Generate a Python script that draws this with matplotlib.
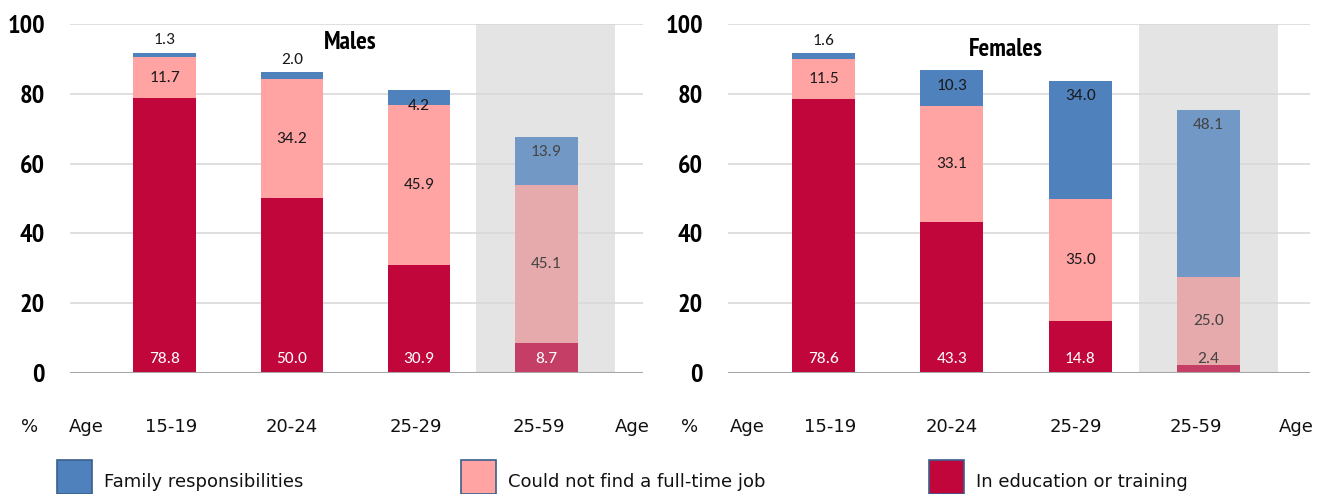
import matplotlib
matplotlib.use("Agg")
import matplotlib.pyplot as plt
from matplotlib import font_manager
from matplotlib.patches import Rectangle
import numpy as np

# data
ages = ["15-19", "20-24", "25-29", "25-59"]
series = ["Family responsibilities", "Could not find a full-time job", "In education or training"]

male_edu    = [78.8, 50.0, 30.9, 8.7]
male_job    = [11.7, 34.2, 45.9, 45.1]
male_family = [1.3, 2.0, 4.2, 13.9]

female_edu    = [78.6, 43.3, 14.8, 2.4]
female_job    = [11.5, 33.1, 35.0, 25.0]
female_family = [1.6, 10.3, 34.0, 48.1]

tick_row = ["%", "Age", "15-19", "20-24", "25-29", "25-59", "Age",
            "%", "Age", "15-19", "20-24", "25-29", "25-59", "Age"]


def pick(cands, bold=False):
    fonts = font_manager.fontManager.ttflist
    for c in cands:
        for f in fonts:
            if f.name == c and (not bold or (isinstance(f.weight, int) and f.weight >= 600)
                                or f.weight in ("bold", "semibold", "demibold", "heavy")):
                return c
    return None


NARROW = pick(["Arial Narrow", "Liberation Sans Narrow", "Archivo Narrow",
               "PT Sans Narrow", "Roboto Condensed", "Fira Sans Condensed",
               "IBM Plex Sans Condensed", "Barlow Condensed", "Open Sans Condensed"],
              bold=True)
CALIBRI = pick(["Calibri", "Carlito"])
VERDANA = pick(["Verdana", "DejaVu Sans"])

# style
BLUE, PINK, RED = "#4F81BD", "#FFA3A3", "#C0063B"
BLUE_F, PINK_F, RED_F = "#7298C5", "#E6AAAC", "#C43E66"
SHADE = "#E4E4E4"
GRID = "#D9D9D9"

tick_font = dict(family=NARROW, fontsize=19) if NARROW else dict(family="DejaVu Sans", fontsize=15)
val_font = dict(family=CALIBRI, fontsize=12.5) if CALIBRI else dict(family="DejaVu Sans", fontsize=10)

W, H = 1330, 494
fig = plt.figure(figsize=(W / 100, H / 100), dpi=100)


def panel(rect, xlim, shade, edu, job, fam, title, title_xy):
    ax = fig.add_axes(rect)
    ax.set_xlim(*xlim)
    ax.set_ylim(0, 100)
    ax.axvspan(shade[0], shade[1], color=SHADE, zorder=0, lw=0)
    for y in range(20, 101, 20):
        ax.axhline(y, color=GRID, lw=1.2, zorder=1)
    ax.axhline(0, color="#A6A6A6", lw=1.5, zorder=4)

    x = np.arange(len(ages))
    edu, job, fam = map(np.array, (edu, job, fam))
    ce = [RED] * 3 + [RED_F]
    cj = [PINK] * 3 + [PINK_F]
    cf = [BLUE] * 3 + [BLUE_F]
    ax.bar(x, edu, 0.49, color=ce, zorder=3)
    ax.bar(x, job, 0.49, bottom=edu, color=cj, zorder=3)
    ax.bar(x, fam, 0.49, bottom=edu + job, color=cf, zorder=3)

    for i in range(len(ages)):
        dark = "#1A1A1A" if i < 3 else "#444444"
        ax.text(x[i], 4.0, f"{edu[i]:.1f}", ha="center", va="center",
                color="white" if edu[i] > 5 else dark, zorder=5, **val_font)
        ax.text(x[i], edu[i] + job[i] / 2, f"{job[i]:.1f}", ha="center",
                va="center", color=dark, zorder=5, **val_font)
        top = edu[i] + job[i] + fam[i]
        fy = top + 3.5 if fam[i] < 3 else top - 4.4
        ax.text(x[i], fy, f"{fam[i]:.1f}", ha="center", va="center",
                color=dark, zorder=5, **val_font)

    ax.set_yticks(range(0, 101, 20))
    ax.set_xticks([])
    for lab in ax.get_yticklabels():
        lab.set_family(tick_font["family"])
        lab.set_fontweight("bold")
        lab.set_fontsize(tick_font["fontsize"])
    ax.tick_params(axis="y", length=0, pad=18)
    for s in ax.spines.values():
        s.set_visible(False)
    ax.text(title_xy[0], title_xy[1], title, ha="center", va="center",
            family=tick_font["family"], fontweight="bold",
            fontsize=tick_font["fontsize"] - 1, zorder=5)
    return ax


panel([70 / W, 121 / H, 573 / W, 349 / H], (-0.742, 3.759), (2.447, 3.539),
      male_edu, male_job, male_family, "Males", (1.457, 94.8))
panel([728 / W, 121 / H, 582 / W, 349 / H], (-0.744, 3.79), (2.459, 3.542),
      female_edu, female_job, female_family, "Females", (1.422, 92.8))

# category row under the charts
row_x = [30, 86, 171, 292, 416, 539, 632, 690, 747, 830, 952, 1076, 1196, 1296]
for label, px in zip(tick_row, row_x):
    fig.text(px / W, 1 - 427 / H, label, ha="center", va="center",
             family=VERDANA, fontsize=13, color="#111111")

# legend
leg_x = [57, 461, 929]
for name, color, px in zip(series, [BLUE, PINK, RED], leg_x):
    fig.add_artist(Rectangle((px / W, 1 - 494 / H), 35 / W, 34 / H,
                             transform=fig.transFigure, facecolor=color,
                             edgecolor="#3B5F8C", lw=1.2))
    fig.text((px + 47) / W, 1 - 482 / H, name, ha="left", va="center",
             family=VERDANA, fontsize=13, color="#111111")

fig.savefig("out.png", dpi=100)
